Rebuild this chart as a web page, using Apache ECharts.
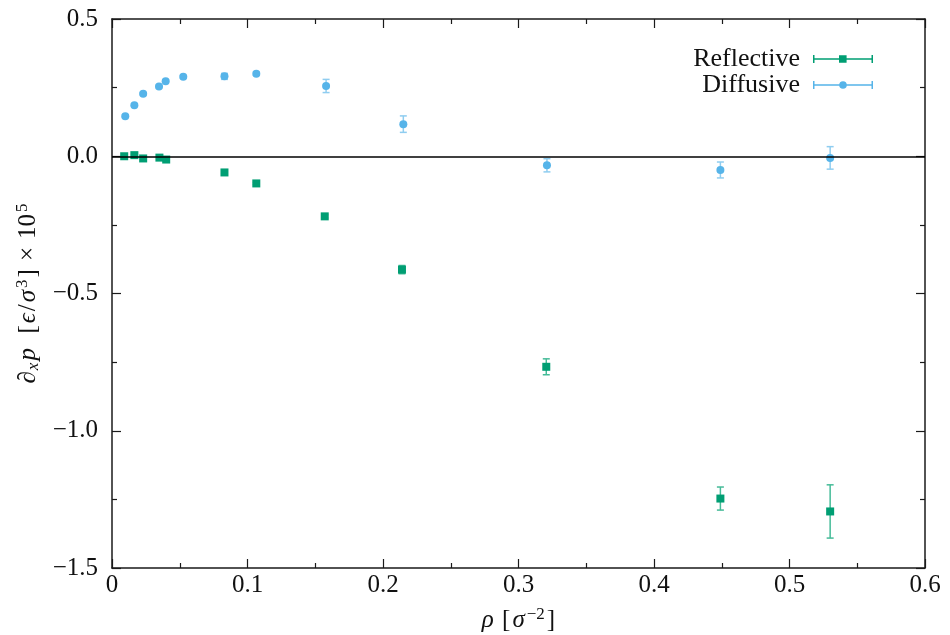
<!DOCTYPE html>
<html>
<head>
<meta charset="utf-8">
<script src="https://cdn.jsdelivr.net/npm/echarts@6/dist/echarts.min.js"></script>
<style>html,body{margin:0;padding:0;background:#fff}#c{width:950px;height:635px}</style>
</head>
<body>
<div id="c"></div>
<script>
// ---- data ----
var reflX   = [0.009, 0.0165, 0.023, 0.035, 0.040, 0.083, 0.1065, 0.157, 0.214, 0.3205, 0.449, 0.530];
var reflY   = [0.000, 0.004, -0.008, -0.005, -0.012, -0.059, -0.099, -0.219, -0.413, -0.767, -1.247, -1.294];
var reflErr = [0.003, 0.003, 0.004, 0.003, 0.005, 0.005, 0.004, 0.006, 0.015, 0.029, 0.042, 0.097];

var diffX   = [0.0098, 0.0165, 0.023, 0.0347, 0.0396, 0.0526, 0.083, 0.1065, 0.158, 0.215, 0.321, 0.449, 0.530];
var diffY   = [0.146, 0.186, 0.228, 0.254, 0.273, 0.290, 0.291, 0.301, 0.256, 0.117, -0.033, -0.050, -0.006];
var diffErr = [0.004, 0.004, 0.004, 0.004, 0.004, 0.004, 0.011, 0.006, 0.024, 0.030, 0.024, 0.029, 0.041];

var seriesNames = ['Reflective', 'Diffusive'];
var xTicks = [0, 0.1, 0.2, 0.3, 0.4, 0.5, 0.6];
var yTicks = [-1.5, -1.0, -0.5, 0.0, 0.5];

// ---- build ----
function pts(xs, ys) { return xs.map(function (x, i) { return [x, ys[i]]; }); }
function errPts(xs, ys, es) { return xs.map(function (x, i) { return [x, ys[i], es[i]]; }); }

var GREEN = '#009e73', BLUE = '#56b4e9';
var GREEN_E = '#45bb98', BLUE_E = '#8fcdf0';
var FONT = '"Liberation Serif", "DejaVu Serif", serif';
var FS = 25;

function errRender(color) {
  return function (params, api) {
    var x = api.value(0), y = api.value(1), e = api.value(2);
    var t = api.coord([x, y + e]), b = api.coord([x, y - e]);
    var w = 3.5;
    var st = { stroke: color, lineWidth: 1.5 };
    return {
      type: 'group',
      children: [
        { type: 'line', shape: { x1: t[0], y1: t[1], x2: b[0], y2: b[1] }, style: st },
        { type: 'line', shape: { x1: t[0] - w, y1: t[1], x2: t[0] + w, y2: t[1] }, style: st },
        { type: 'line', shape: { x1: b[0] - w, y1: b[1], x2: b[0] + w, y2: b[1] }, style: st }
      ]
    };
  };
}

function fmtY(v) {
  var s = Math.abs(v).toFixed(1);
  return (v < 0 ? '\u2212' : '') + s;
}
function fmtX(v) {
  if (Math.abs(v) < 1e-9) return '0';
  return (Math.round(v * 10) / 10).toString();
}

var axisLineStyle = { color: '#1a1a1a', width: 1.5 };
var tickStyle = { color: '#1a1a1a', width: 1.2 };

var iconRefl = 'path://M0,5.2h60v1.6h-60z M0,2h1.5v8h-1.5z M58.5,2h1.5v8h-1.5z M26,2.2h7.6v7.6h-7.6z';
var iconDiff = 'path://M0,5.2h60v1.6h-60z M0,2h1.5v8h-1.5z M58.5,2h1.5v8h-1.5z M33.8,6a3.8,3.8 0 1,1 -7.6,0a3.8,3.8 0 1,1 7.6,0z';

var richMath = {
  i:  { fontFamily: FONT, fontSize: FS, fontStyle: 'italic', color: '#111', padding: [0, 1, 0, 1] },
  n:  { fontFamily: FONT, fontSize: FS, color: '#111', padding: [0, 1, 0, 1] },
  w:  { fontFamily: FONT, fontSize: FS, color: '#111', padding: [0, 7, 0, 7] },
  sb: { fontFamily: FONT, fontSize: 17, fontStyle: 'italic', color: '#111', padding: [10, 1, 0, 0] },
  sp: { fontFamily: FONT, fontSize: 17, color: '#111', padding: [0, 1, 12, 1] }
};

var chart = echarts.init(document.getElementById('c'), null, { renderer: 'canvas' });
chart.setOption({
  animation: false,
  backgroundColor: '#fff',
  textStyle: { fontFamily: FONT },
  grid: { left: 112, right: 25, top: 19, bottom: 67, containLabel: false, outerBoundsMode: 'none' },
  legend: {
    orient: 'vertical',
    right: 72,
    top: 41,
    align: 'right',
    itemWidth: 60,
    itemHeight: 12,
    itemGap: 0,
    selectedMode: false,
    textStyle: { fontFamily: FONT, fontSize: 26, lineHeight: 26, color: '#111', padding: [0, 8, 0, 0] },
    data: [
      { name: seriesNames[0], icon: iconRefl },
      { name: seriesNames[1], icon: iconDiff }
    ]
  },
  xAxis: [{
    type: 'value', min: 0, max: 0.6, interval: 0.1, position: 'bottom',
    name: '{i|\u03c1} {n|[}{i|\u03c3}{sp|\u22122}{n|]}',
    nameLocation: 'middle', nameGap: 38,
    nameTextStyle: { fontFamily: FONT, fontSize: FS, color: '#111', rich: richMath },
    axisLine: { show: true, onZero: false, lineStyle: axisLineStyle },
    axisTick: { show: true, inside: true, length: 9, lineStyle: tickStyle },
    minorTick: { show: true, splitNumber: 2, length: 5, lineStyle: tickStyle },
    splitLine: { show: false },
    axisLabel: { fontFamily: FONT, fontSize: FS, color: '#111', margin: 5, formatter: fmtX,
      customValues: xTicks }
  }, {
    type: 'value', min: 0, max: 0.6, interval: 0.1, position: 'top',
    axisLine: { show: true, onZero: false, lineStyle: axisLineStyle },
    axisTick: { show: true, inside: true, length: 9, lineStyle: tickStyle },
    minorTick: { show: true, splitNumber: 2, length: 5, lineStyle: tickStyle },
    splitLine: { show: false },
    axisLabel: { show: false }
  }],
  yAxis: [{
    type: 'value', min: -1.5, max: 0.5, interval: 0.5, position: 'left',
    name: '{i|\u2202}{sb|x}{i|p}  {n|[}{i|\u03f5}{n|/}{i|\u03c3}{sp|3}{n|]}{w|\u00d7}{n|10}{sp|5}',
    nameLocation: 'middle', nameGap: 68, nameRotate: 90,
    nameTextStyle: { fontFamily: FONT, fontSize: FS, color: '#111', rich: richMath },
    axisLine: { show: true, onZero: false, lineStyle: axisLineStyle },
    axisTick: { show: true, inside: true, length: 9, lineStyle: tickStyle },
    minorTick: { show: true, splitNumber: 2, length: 5, lineStyle: tickStyle },
    splitLine: { show: false },
    axisLabel: { fontFamily: FONT, fontSize: FS, color: '#111', margin: 14, formatter: fmtY,
      customValues: yTicks }
  }, {
    type: 'value', min: -1.5, max: 0.5, interval: 0.5, position: 'right',
    axisLine: { show: true, onZero: false, lineStyle: axisLineStyle },
    axisTick: { show: true, inside: true, length: 9, lineStyle: tickStyle },
    minorTick: { show: true, splitNumber: 2, length: 5, lineStyle: tickStyle },
    splitLine: { show: false },
    axisLabel: { show: false }
  }],
  series: [
    {
      name: 'zero', type: 'line', data: [], silent: true,
      markLine: { silent: true, symbol: ['none', 'none'], label: { show: false },
        lineStyle: { color: '#000', width: 1.5, type: 'solid' },
        data: [{ yAxis: 0 }] },
      z: 1
    },
    {
      name: 'reflErr', type: 'custom', renderItem: errRender(GREEN_E),
      data: errPts(reflX, reflY, reflErr), silent: true, z: 2,
      encode: { x: 0, y: 1 }
    },
    {
      name: 'diffErr', type: 'custom', renderItem: errRender(BLUE_E),
      data: errPts(diffX, diffY, diffErr), silent: true, z: 2,
      encode: { x: 0, y: 1 }
    },
    {
      name: seriesNames[0], type: 'scatter', symbol: 'rect', symbolSize: 8,
      itemStyle: { color: GREEN, opacity: 1 },
      data: pts(reflX, reflY), z: 3
    },
    {
      name: seriesNames[1], type: 'scatter', symbol: 'circle', symbolSize: 8,
      itemStyle: { color: BLUE, opacity: 1 },
      data: pts(diffX, diffY), z: 3
    }
  ]
});
</script>
</body>
</html>
